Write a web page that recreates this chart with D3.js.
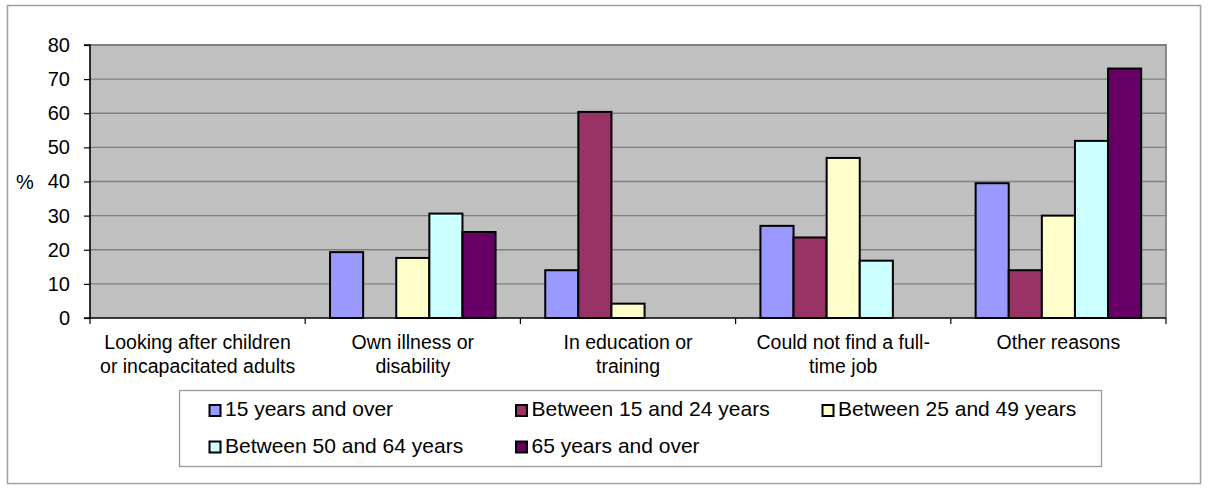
<!DOCTYPE html>
<html><head><meta charset="utf-8">
<script src="https://cdn.jsdelivr.net/npm/d3@7"></script>
<style>body{margin:0;background:#fff}svg{display:block}text{font-family:"Liberation Sans",Arial,sans-serif;fill:#000}</style>
</head><body><svg id="c" width="1208" height="490"></svg>
<script>
// ---- data ----
const categories = ["Looking after children or incapacitated adults","Own illness or disability","In education or training","Could not find a full-time job","Other reasons"];
const categoryLines = [["Looking after children","or incapacitated adults"],["Own illness or","disability"],["In education or","training"],["Could not find a full-","time job"],["Other reasons"]];
const seriesNames = ["15 years and over","Between 15 and 24 years","Between 25 and 49 years","Between 50 and 64 years","65 years and over"];
const s15over  = [null, 19.3, 14.0, 27.0, 39.5];
const s15to24  = [null, null, 60.4, 23.6, 14.0];
const s25to49  = [null, 17.6,  4.2, 46.9, 30.0];
const s50to64  = [null, 30.6, null, 16.8, 51.9];
const s65over  = [null, 25.2, null, null, 73.1];
const yTicks = [0,10,20,30,40,50,60,70,80];
const yLabel = "%";
const seriesColors = ["#9999FF","#993366","#FFFFCC","#CCFFFF","#660066"];

const seriesValues = [s15over, s15to24, s25to49, s50to64, s65over];

// ---- layout ----
const svg = d3.select("#c");
const L = 90, R = 1166, T = 45, B = 318;

// outer border
svg.append("rect").attr("x",7.5).attr("y",5.5).attr("width",1193).attr("height",478)
  .attr("fill","#fff").attr("stroke","#a0a0a0").attr("stroke-width",1.5);

const x = d3.scaleBand().domain(categories).range([L,R]).padding(0);
const xs = d3.scaleBand().domain(seriesNames).range([0,x.bandwidth()]).paddingInner(0).paddingOuter(0.75);
const y = d3.scaleLinear().domain([0,80]).range([B,T]);

// plot background
svg.append("rect").attr("x",L).attr("y",T).attr("width",R-L).attr("height",B-T).attr("fill","#C0C0C0");

// gridlines
svg.append("g").selectAll("line").data(yTicks.filter(d=>d>0 && d<80)).join("line")
  .attr("x1",L).attr("x2",R).attr("y1",d=>y(d)).attr("y2",d=>y(d))
  .attr("stroke","#808080").attr("stroke-width",1.3);

// plot border top/right
svg.append("path").attr("d",`M${L},${y(80)}H${R}V${B}`).attr("fill","none").attr("stroke","#808080").attr("stroke-width",1.8);

// bars
const rows = [];
seriesValues.forEach((arr,si)=>arr.forEach((v,ci)=>{ if(v!=null) rows.push({s:seriesNames[si],c:categories[ci],v,si}); }));
svg.append("g").selectAll("rect").data(rows).join("rect")
  .attr("x",d=>x(d.c)+xs(d.s)).attr("width",xs.bandwidth())
  .attr("y",d=>y(d.v)).attr("height",d=>y(0)-y(d.v))
  .attr("fill",d=>seriesColors[d.si]).attr("stroke","#000").attr("stroke-width",2);

// y axis
const yAxis = d3.axisLeft(y).tickValues(yTicks).tickSize(6).tickPadding(14).tickFormat(d3.format("d"));
const gy = svg.append("g").attr("transform",`translate(${L},0)`).call(yAxis);
gy.select(".domain").attr("stroke","#000").attr("stroke-width",1.6).attr("d",`M-6,${T}H0V${B}H-6`);
gy.selectAll(".tick line").attr("stroke","#000").attr("stroke-width",1.2);
gy.selectAll(".tick text").attr("font-size",20).attr("font-family","Liberation Sans, Arial, sans-serif").attr("fill","#000");

// x axis
const gx = svg.append("g").attr("transform",`translate(0,${B})`);
gx.append("line").attr("x1",L).attr("x2",R).attr("stroke","#000").attr("stroke-width",1.6);
const bounds = categories.map(c=>x(c)).concat([R]);
gx.selectAll("line.tk").data(bounds).join("line").attr("class","tk")
  .attr("x1",d=>d).attr("x2",d=>d).attr("y1",0).attr("y2",6).attr("stroke","#000").attr("stroke-width",1.2);
gx.selectAll("text.cat").data(categories).join("text").attr("class","cat")
  .attr("text-anchor","middle").attr("font-size",19.5)
  .each(function(c,i){
    const t = d3.select(this);
    categoryLines[i].forEach((ln,j)=>t.append("tspan").attr("x",x(c)+x.bandwidth()/2).attr("y",31+j*24).text(ln));
  });

// y label
svg.append("text").attr("x",25).attr("y",y(40)).attr("dy","0.35em").attr("text-anchor","middle").attr("font-size",20).text(yLabel);

// legend
svg.append("rect").attr("x",179.5).attr("y",390.5).attr("width",922).attr("height",76)
  .attr("fill","#fff").attr("stroke","#999").attr("stroke-width",1.3);
const lg = svg.append("g").selectAll("g").data(seriesNames).join("g")
  .attr("transform",(d,i)=>`translate(${209+(i%3)*306.5},${Math.floor(i/3)*36.5})`);
lg.append("rect").attr("x",0.5).attr("y",405).attr("width",11).attr("height",11)
  .attr("fill",(d,i)=>seriesColors[i]).attr("stroke","#000").attr("stroke-width",2);
lg.append("text").attr("x",16).attr("y",416).attr("font-size",21).text(d=>d);
</script></body></html>
